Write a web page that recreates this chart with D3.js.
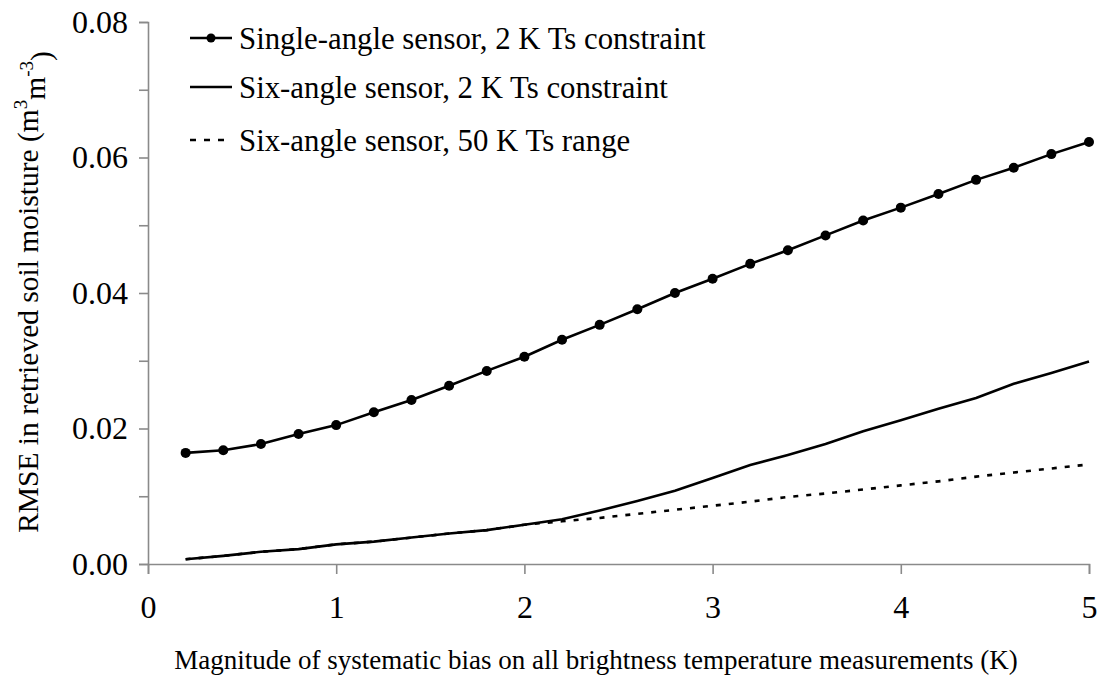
<!DOCTYPE html>
<html lang="en">
<head>
<meta charset="UTF-8">
<title>RMSE vs bias</title>
<script src="https://cdn.jsdelivr.net/npm/d3@7"></script>
<style>
  body { margin: 0; background: #fff; }
</style>
</head>
<body>
<script>
// bias magnitudes (K)
const biasK = [0.2, 0.4, 0.6, 0.8, 1.0, 1.2, 1.4, 1.6, 1.8, 2.0, 2.2, 2.4, 2.6,
               2.8, 3.0, 3.2, 3.4, 3.6, 3.8, 4.0, 4.2, 4.4, 4.6, 4.8, 5.0];

// RMSE (m3 m-3)
const singleAngle2K = [0.0164, 0.0168, 0.0177, 0.0192, 0.0205, 0.0224, 0.0242, 0.0263, 0.0285,
                       0.0306, 0.0331, 0.0353, 0.0376, 0.0400, 0.0421, 0.0443, 0.0463, 0.0485,
                       0.0507, 0.0526, 0.0546, 0.0567, 0.0585, 0.0605, 0.0623];
const sixAngle2K = [0.0007, 0.0012, 0.0018, 0.0022, 0.0029, 0.0033, 0.0039, 0.0045, 0.0050,
                    0.0058, 0.0066, 0.0079, 0.0093, 0.0108, 0.0127, 0.0146, 0.0161, 0.0177,
                    0.0196, 0.0212, 0.0229, 0.0245, 0.0266, 0.0282, 0.0299];
const sixAngle50K = [0.0007, 0.0012, 0.0018, 0.0022, 0.0029, 0.0033, 0.0039, 0.0045, 0.0050,
                     0.0058, 0.0063, 0.0068, 0.0074, 0.0080, 0.0086, 0.0092, 0.0099, 0.0104,
                     0.0110, 0.0116, 0.0122, 0.0129, 0.0135, 0.0141, 0.0147];

const legendLabels = ["Single-angle sensor, 2 K Ts constraint",
                      "Six-angle sensor, 2 K Ts constraint",
                      "Six-angle sensor, 50 K Ts range"];

const xTicks = [0, 1, 2, 3, 4, 5];
const yTicks = [0, 0.01, 0.02, 0.03, 0.04, 0.05, 0.06, 0.07, 0.08];

const FONT = '"Liberation Serif", "Times New Roman", serif';
const W = 1102, H = 680;
const svg = d3.select("body").append("svg").attr("width", W).attr("height", H)
  .style("font-family", FONT);

const x = d3.scaleLinear().domain([0, 5]).range([148, 1089]);
const y = d3.scaleLinear().domain([0, 0.08]).range([564, 22]);

// axes
const axisColor = "#8a8a8a";
const gx = svg.append("g").attr("transform", `translate(0,${y(0)})`)
  .call(d3.axisBottom(x).tickValues(xTicks).tickSize(10).tickPadding(21).tickFormat(d3.format("d")));
const gy = svg.append("g").attr("transform", `translate(${x(0)},0)`)
  .call(d3.axisLeft(y).tickValues(yTicks).tickSize(9).tickPadding(11)
    .tickFormat(d => (Math.round(d * 100) % 2 === 0) ? d3.format(".2f")(d) : ""));

[gx, gy].forEach(g => {
  g.attr("font-family", null);
  g.select(".domain").attr("stroke", axisColor).attr("stroke-width", 1.6);
  g.selectAll(".tick line").attr("stroke", axisColor).attr("stroke-width", 1.6);
  g.selectAll(".tick text").style("font-family", FONT).style("font-size", "32px").attr("fill", "#000");
});
gx.selectAll(".tick text").attr("dy", "0.71em");

// lines
const line = d3.line().x((d, i) => x(biasK[i])).y(d => y(d));

svg.append("path").datum(sixAngle50K)
  .attr("d", line).attr("fill", "none").attr("stroke", "#000")
  .attr("stroke-width", 2.6).attr("stroke-dasharray", "5,8");

svg.append("path").datum(sixAngle2K)
  .attr("d", line).attr("fill", "none").attr("stroke", "#000").attr("stroke-width", 2.6);

svg.append("path").datum(singleAngle2K)
  .attr("d", line).attr("fill", "none").attr("stroke", "#000").attr("stroke-width", 2.6);

svg.append("g").selectAll("circle").data(singleAngle2K).join("circle")
  .attr("cx", (d, i) => x(biasK[i])).attr("cy", d => y(d)).attr("r", 5).attr("fill", "#000");

// legend
const legendY = [38, 87, 140];
const lg = svg.append("g");
legendLabels.forEach((lab, i) => {
  const ly = legendY[i];
  lg.append("line").attr("x1", 190).attr("x2", 232).attr("y1", ly).attr("y2", ly)
    .attr("stroke", "#000").attr("stroke-width", 2.6)
    .attr("stroke-dasharray", i === 2 ? "6,8" : null);
  if (i === 0) lg.append("circle").attr("cx", 211).attr("cy", ly).attr("r", 4.5).attr("fill", "#000");
  lg.append("text").attr("x", 239).attr("y", ly).attr("dy", "0.35em")
    .style("font-family", FONT).style("font-size", "30.8px").text(lab);
});

// axis titles
svg.append("text").attr("x", 596).attr("y", 660).attr("dy", "0.35em")
  .attr("text-anchor", "middle").style("font-family", FONT).style("font-size", "27px")
  .text("Magnitude of systematic bias on all brightness temperature measurements (K)");

const yt = svg.append("text").attr("transform", "translate(28,292) rotate(-90)")
  .attr("text-anchor", "middle").attr("dy", "0.35em")
  .style("font-family", FONT).style("font-size", "29.5px");
yt.append("tspan").text("RMSE in retrieved soil moisture (m");
yt.append("tspan").attr("dy", "-0.6em").style("font-size", "19px").text("3");
yt.append("tspan").attr("dy", "0.6em").text("m");
yt.append("tspan").attr("dy", "-0.6em").style("font-size", "19px").text("-3");
yt.append("tspan").attr("dy", "0.6em").text(")");
</script>
</body>
</html>
